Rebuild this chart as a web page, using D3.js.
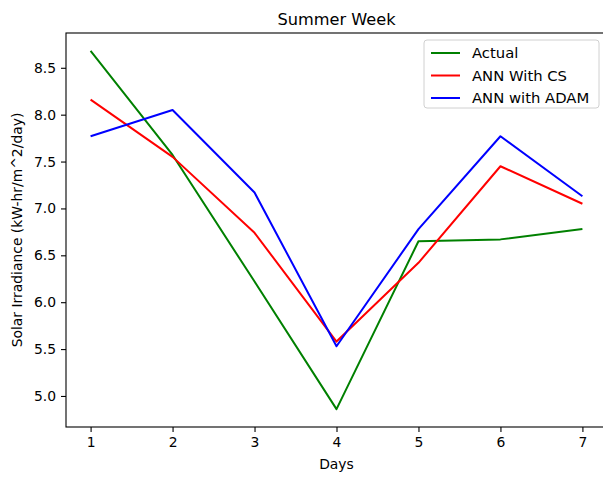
<!DOCTYPE html>
<html>
<head>
<meta charset="utf-8">
<script src="https://cdn.jsdelivr.net/npm/d3@7"></script>
<style>
  body { margin: 0; background: #fff; }
  svg { font-family: "DejaVu Sans", sans-serif; }
</style>
</head>
<body>
<div id="chart"></div>
<script>
const days = [1, 2, 3, 4, 5, 6, 7];
const actual = [8.68, 7.57, 6.22, 4.86, 6.65, 6.67, 6.78];
const annCS = [8.16, 7.55, 6.74, 5.58, 6.42, 7.45, 7.05];
const annAdam = [7.77, 8.05, 7.17, 5.53, 6.78, 7.77, 7.13];
const yTicks = [5.0, 5.5, 6.0, 6.5, 7.0, 7.5, 8.0, 8.5];

const series = [
  { name: "Actual", values: actual, color: "green" },
  { name: "ANN With CS", values: annCS, color: "red" },
  { name: "ANN with ADAM", values: annAdam, color: "blue" }
];

const width = 603, height = 477;
const plotLeft = 66, plotRight = 607, plotTop = 33, plotBottom = 427;

const svg = d3.select("#chart").append("svg")
  .attr("width", width)
  .attr("height", height);

// matplotlib-style 5% margins
const allVals = actual.concat(annCS, annAdam);
const yMin = d3.min(allVals), yMax = d3.max(allVals);
const yPad = (yMax - yMin) * 0.05;

const x = d3.scaleLinear().domain([0.7, 7.3]).range([plotLeft, plotRight]);
const y = d3.scaleLinear().domain([yMin - yPad, yMax + yPad]).range([plotBottom, plotTop]);

const line = d3.line()
  .x((d, i) => x(days[i]))
  .y(d => y(d));

svg.append("g")
  .selectAll("path")
  .data(series)
  .enter().append("path")
    .attr("fill", "none")
    .attr("stroke", d => d.color)
    .attr("stroke-width", 2)
    .attr("stroke-linejoin", "round")
    .attr("d", d => line(d.values));

// axes
const xAxis = svg.append("g")
  .attr("transform", `translate(0,${plotBottom})`)
  .call(d3.axisBottom(x).tickValues(days).tickFormat(d3.format("d")).tickSize(5).tickPadding(5));
const yAxis = svg.append("g")
  .attr("transform", `translate(${plotLeft},0)`)
  .call(d3.axisLeft(y).tickValues(yTicks).tickFormat(d3.format(".1f")).tickSize(5).tickPadding(5));

[xAxis, yAxis].forEach(g => {
  g.select(".domain").remove();
  g.selectAll("line").attr("stroke", "#000").attr("stroke-width", 1.1);
  g.selectAll("text").attr("font-size", 13.9).attr("fill", "#000")
    .attr("font-family", "DejaVu Sans, sans-serif");
});

// frame
svg.append("rect")
  .attr("x", plotLeft).attr("y", plotTop)
  .attr("width", plotRight - plotLeft).attr("height", plotBottom - plotTop)
  .attr("fill", "none")
  .attr("stroke", "#000")
  .attr("stroke-width", 1.1);

// title and labels
svg.append("text")
  .attr("x", (plotLeft + plotRight) / 2).attr("y", 25)
  .attr("text-anchor", "middle")
  .attr("font-size", 16.2)
  .text("Summer Week");

svg.append("text")
  .attr("x", (plotLeft + plotRight) / 2).attr("y", 469)
  .attr("text-anchor", "middle")
  .attr("font-size", 13.9)
  .text("Days");

svg.append("text")
  .attr("transform", `translate(22,${(plotTop + plotBottom) / 2}) rotate(-90)`)
  .attr("text-anchor", "middle")
  .attr("font-size", 13.9)
  .text("Solar Irradiance (kW-hr/m^2/day)");

// legend
const legend = svg.append("g").attr("transform", "translate(424,40)");
legend.append("rect")
  .attr("width", 175).attr("height", 68)
  .attr("rx", 3)
  .attr("fill", "#fff").attr("fill-opacity", 0.8)
  .attr("stroke", "#d0d0d0");

const item = legend.selectAll("g.item")
  .data(series)
  .enter().append("g")
    .attr("class", "item")
    .attr("transform", (d, i) => `translate(0,${13 + i * 22.5})`);
item.append("line")
  .attr("x1", 7).attr("x2", 36)
  .attr("stroke", d => d.color)
  .attr("stroke-width", 2);
item.append("text")
  .attr("x", 48).attr("y", 5)
  .attr("font-size", 14.8)
  .text(d => d.name);
</script>
</body>
</html>
